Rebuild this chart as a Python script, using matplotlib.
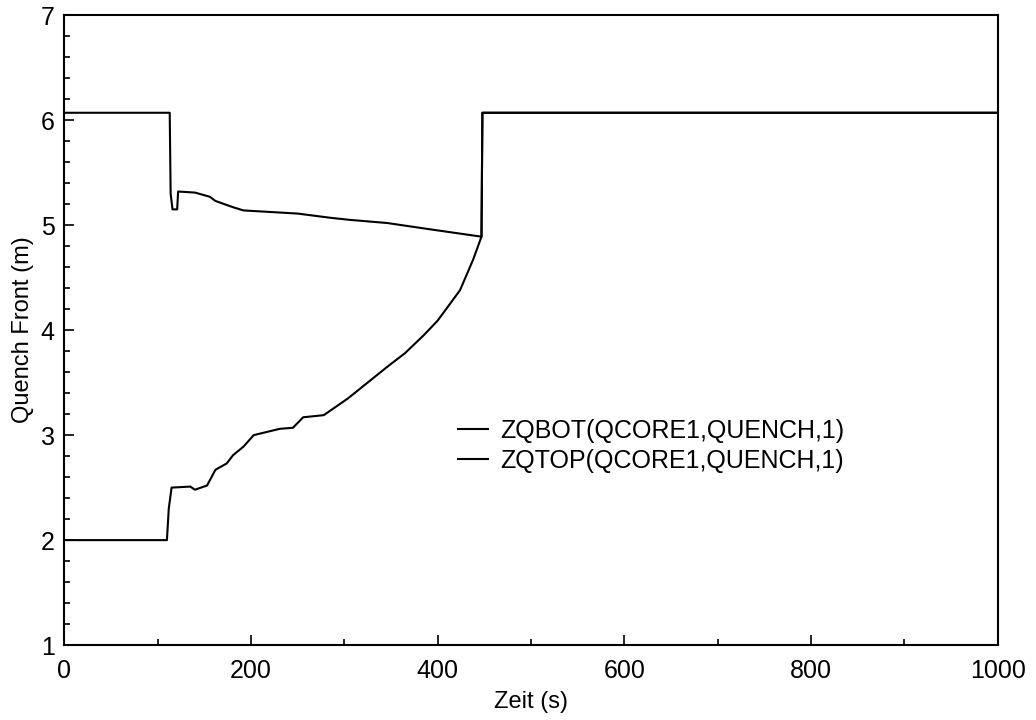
import numpy as np
import matplotlib.pyplot as plt
from matplotlib.ticker import MultipleLocator

plt.rcParams['font.family'] = ['Liberation Sans', 'DejaVu Sans']

# ZQBOT - lower quench front
t_bot = [0, 110, 112, 115, 135, 140, 153, 162, 174, 181, 192, 203, 231, 245,
         256, 278, 304, 346, 365, 385, 400, 424, 438, 447, 448, 1000]
z_bot = [2.0, 2.0, 2.3, 2.50, 2.51, 2.48, 2.52, 2.67, 2.73, 2.81, 2.89, 3.0,
         3.06, 3.07, 3.17, 3.19, 3.35, 3.65, 3.78, 3.95, 4.09, 4.38, 4.67,
         4.89, 6.07, 6.07]

# ZQTOP - upper quench front
t_top = [0, 113, 114, 116, 121, 122, 140, 156, 162, 181, 192, 250, 285, 306,
         346, 392, 447, 448, 1000]
z_top = [6.07, 6.07, 5.3, 5.15, 5.15, 5.32, 5.31, 5.27, 5.23, 5.17, 5.14,
         5.11, 5.07, 5.05, 5.02, 4.96, 4.89, 6.07, 6.07]

fig = plt.figure(figsize=(10.36, 7.2), dpi=100)
ax = fig.add_axes([0.062, 0.104, 0.901, 0.875])

ax.plot(t_bot, z_bot, color='black', lw=1.5, label='ZQBOT(QCORE1,QUENCH,1)')
ax.plot(t_top, z_top, color='black', lw=1.5, label='ZQTOP(QCORE1,QUENCH,1)')

ax.set_xlim(0, 1000)
ax.set_ylim(1, 7)
ax.xaxis.set_major_locator(MultipleLocator(200))
ax.xaxis.set_minor_locator(MultipleLocator(100))
ax.yaxis.set_major_locator(MultipleLocator(1))
ax.yaxis.set_minor_locator(MultipleLocator(0.2))
ax.tick_params(which='both', direction='in', top=False, right=False,
               labelsize=18, width=1.2)
ax.tick_params(which='major', length=7, pad=7)
ax.tick_params(axis='x', which='major', pad=10)
ax.tick_params(which='minor', length=4)
for s in ax.spines.values():
    s.set_linewidth(1.5)

ax.set_xlabel('Zeit (s)', fontsize=17, labelpad=6)
ax.set_ylabel('Quench Front (m)', fontsize=17, labelpad=5)

ax.legend(loc='center left', bbox_to_anchor=(0.422, 0.316), frameon=False,
          fontsize=18, handlelength=1.2, handletextpad=0.5, labelspacing=0.25,
          borderpad=0, borderaxespad=0)

fig.savefig('out.png', dpi=100)
